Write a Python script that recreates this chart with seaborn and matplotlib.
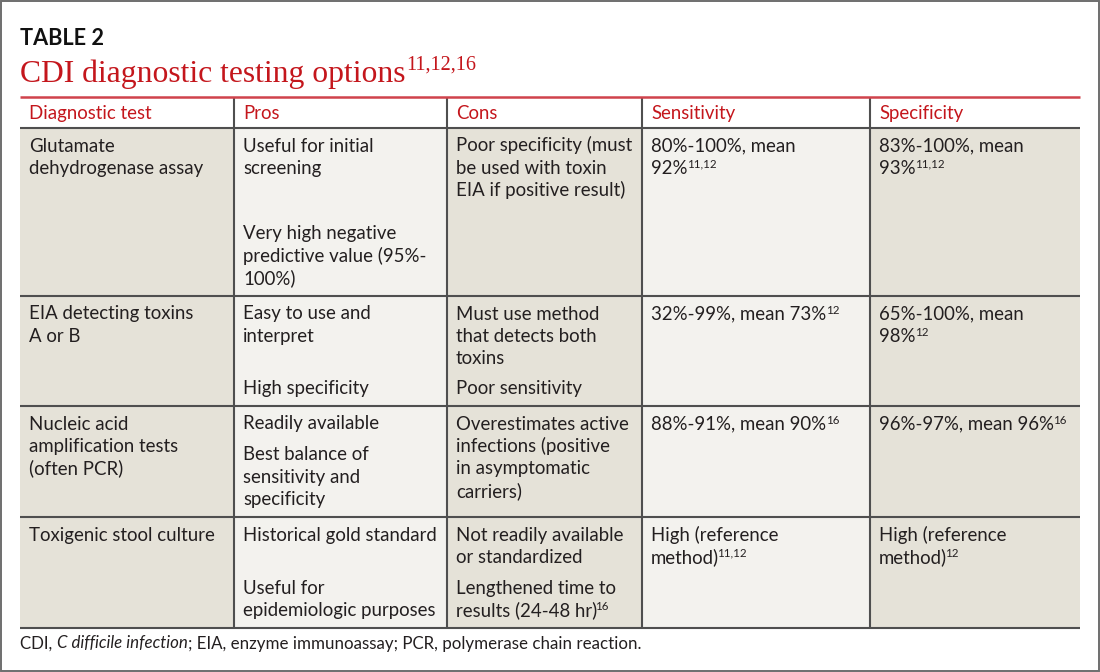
import matplotlib
matplotlib.use("Agg")
import matplotlib.pyplot as plt
from matplotlib.patches import Rectangle
import seaborn as sns

# ---------------- data ----------------
table_label = "TABLE 2"
title_text = "CDI diagnostic testing options"
title_refs = "11,12,16"
header = ["Diagnostic test", "Pros", "Cons", "Sensitivity", "Specificity"]

tests = [
    [["Glutamate", "dehydrogenase assay"]],
    [["EIA detecting toxins", "A or B"]],
    [["Nucleic acid", "amplification tests", "(often PCR)"]],
    [["Toxigenic stool culture"]],
]
pros = [
    [["Useful for initial", "screening"], ["Very high negative", "predictive value (95%-", "100%)"]],
    [["Easy to use and", "interpret"], ["High specificity"]],
    [["Readily available"], ["Best balance of", "sensitivity and", "specificity"]],
    [["Historical gold standard"], ["Useful for", "epidemiologic purposes"]],
]
cons = [
    [["Poor specificity (must", "be used with toxin", "EIA if positive result)"]],
    [["Must use method", "that detects both", "toxins"], ["Poor sensitivity"]],
    [["Overestimates active", "infections (positive", "in asymptomatic", "carriers)"]],
    [["Not readily available", "or standardized"], ["Lengthened time to", "results (24-48 hr)^16"]],
]
sensitivity = [
    [["80%-100%, mean", "92%^11,12"]],
    [["32%-99%, mean 73%^12"]],
    [["88%-91%, mean 90%^16"]],
    [["High (reference", "method)^11,12"]],
]
specificity = [
    [["83%-100%, mean", "93%^11,12"]],
    [["65%-100%, mean", "98%^12"]],
    [["96%-97%, mean 96%^16"]],
    [["High (reference", "method)^12"]],
]
footnote_parts = [("CDI, ", "normal"), ("C difficile infection", "italic"),
                  ("; EIA, enzyme immunoassay; PCR, polymerase chain reaction.", "normal")]

# ---------------- layout / style ----------------
W, H = 1100, 672
col_edges = [20, 234, 447, 642, 870, 1080]
rule_top, header_bottom = 97, 128
row_edges = [128, 296, 406, 517, 628]
pad_x = 9
line_h = 22.4
first_base = 23.5
last_base = 12

SANS = ["Lato", "DejaVu Sans"]
SERIF = ["Liberation Serif", "DejaVu Serif"]
TXT = "#231f20"
RED = "#c4161c"
DARK_BG = "#e5e2d8"
LIGHT_BG = "#f3f2ee"
GRID = "#4f4f4f"

sns.set_theme(style="white")
plt.rcParams["font.family"] = SANS

fig = plt.figure(figsize=(W / 100, H / 100), dpi=100)
ax = fig.add_axes([0, 0, 1, 1])
ax.set_xlim(0, W)
ax.set_ylim(H, 0)
ax.axis("off")
renderer = fig.canvas.get_renderer()


def text_w(s, size, **kw):
    t = ax.text(0, 0, s, fontsize=size, **kw)
    w = t.get_window_extent(renderer).width
    t.remove()
    return w


def fit(s, target, **kw):
    return 10 * target / text_w(s, 10, **kw)


body_fs = fit("Historical gold standard", 194, family=SANS)
sup_fs = body_fs * 0.62

# outer frame
ax.add_patch(Rectangle((0.8, 0.8), W - 2.2, H - 2.2, fill=False, edgecolor="#6e6e6e", lw=1.4, zorder=5))

# label and title
lab_fs = fit(table_label, 84, family=SANS, weight="bold")
ax.text(20, 45, table_label, fontsize=lab_fs, family=SANS, weight="bold", color="#111111", va="baseline")
title_fs = fit(title_text, 385, family=SERIF)
ax.text(20, 82, title_text, fontsize=title_fs, family=SERIF, color=RED, va="baseline")
tw = text_w(title_text, title_fs, family=SERIF)
ax.text(20 + tw + 1, 70, title_refs, fontsize=title_fs * 0.64, family=SERIF, color=RED, va="baseline")

# column backgrounds
for i in range(5):
    ax.add_patch(Rectangle((col_edges[i], header_bottom), col_edges[i + 1] - col_edges[i],
                           row_edges[-1] - header_bottom,
                           facecolor=DARK_BG if i % 2 == 0 else LIGHT_BG, edgecolor="none", zorder=1))

# grid lines
for x in col_edges[1:-1]:
    ax.plot([x, x], [rule_top, row_edges[-1]], color=GRID, lw=1.5, zorder=3, solid_capstyle="butt")
for y in row_edges:
    ax.plot([col_edges[0], col_edges[-1]], [y, y], color=GRID, lw=1.5, zorder=3, solid_capstyle="butt")
ax.plot([col_edges[0], col_edges[-1]], [rule_top, rule_top], color="#d0434c", lw=1.8, zorder=4,
        solid_capstyle="butt")

# header
for i, h in enumerate(header):
    ax.text(col_edges[i] + pad_x, 119, h, fontsize=body_fs, family=SANS, color=RED, va="baseline", zorder=6)


def draw_line(x, y, s):
    if "^" in s:
        main, sup = s.split("^")
    else:
        main, sup = s, None
    ax.text(x, y, main, fontsize=body_fs, family=SANS, color=TXT, va="baseline", zorder=6)
    if sup:
        w = text_w(main, body_fs, family=SANS)
        shift = -2.0 if main.endswith(")") else -0.5
        ax.text(x + w + shift, y - 6, sup, fontsize=sup_fs, family=SANS, color=TXT, va="baseline", zorder=6)


columns = [tests, pros, cons, sensitivity, specificity]
for ci, col in enumerate(columns):
    x = col_edges[ci] + pad_x
    for ri, cell in enumerate(col):
        top, bot = row_edges[ri], row_edges[ri + 1]
        for li, line in enumerate(cell[0]):
            draw_line(x, top + first_base + li * line_h, line)
        if len(cell) > 1:
            para = cell[1]
            n = len(para)
            for li, line in enumerate(para):
                draw_line(x, bot - last_base - (n - 1 - li) * line_h, line)

# footnote
foot_w10 = sum(text_w(p, 10, family=SANS, style=s) for p, s in footnote_parts)
foot_fs = 10 * 621 / foot_w10
fx = 20
for part, style in footnote_parts:
    ax.text(fx, 648.5, part, fontsize=foot_fs, family=SANS, style=style, color=TXT, va="baseline")
    fx += text_w(part, foot_fs, family=SANS, style=style)

fig.savefig("out.png", dpi=100)
